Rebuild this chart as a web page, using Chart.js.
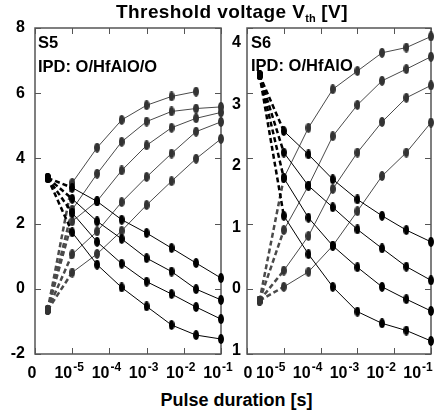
<!DOCTYPE html>
<html>
<head>
<meta charset="utf-8">
<script src="https://cdn.jsdelivr.net/npm/chart.js@4.4.0/dist/chart.umd.min.js"></script>
<style>
  body { margin: 0; background: #fff; font-family: "Liberation Sans", Arial, sans-serif; }
  #wrap { position: relative; width: 444px; height: 417px; overflow: hidden; }
  canvas { position: absolute; top: 0; }
  #s5 { left: 0; }
  #s6 { left: 222px; }
  .txt { position: absolute; font-weight: bold; white-space: nowrap; color: #000; line-height: 1; }
  .txt sub { font-size: 11px; vertical-align: -4px; line-height: 0; letter-spacing: 0; }
</style>
</head>
<body>
<div id="wrap">
  <canvas id="s5" width="244" height="380"></canvas>
  <canvas id="s6" width="222" height="380"></canvas>
  <div class="txt" style="left:0;width:464px;text-align:center;top:2px;font-size:19px;letter-spacing:0.4px">Threshold voltage V<sub>th</sub> [V]</div>
  <div class="txt" style="left:0;width:473px;text-align:center;top:391px;font-size:18px">Pulse duration [s]</div>
  <div class="txt" style="left:38px;top:34px;font-size:16.5px">S5</div>
  <div class="txt" style="left:38px;top:58px;font-size:16.5px">IPD: O/HfAlO/O</div>
  <div class="txt" style="left:251px;top:34px;font-size:16.5px">S6</div>
  <div class="txt" style="left:251px;top:57px;font-size:16.5px">IPD: O/HfAlO</div>
</div>
<script>
// pulse duration, as log10(t / 1 s); the "0" pulse sits left of 10^-5
const pulseLog = [-5, -4.33, -3.67, -3, -2.33, -1.67, -1];
const zeroPulseLog = -5.66;

const xTickValues = [-6, -5, -4, -3, -2, -1];
const xTickLabels = [['0', ''], ['10', '-5'], ['10', '-4'], ['10', '-3'], ['10', '-2'], ['10', '-1']];

// S5 (IPD: O/HfAlO/O), Vth [V]
const s5ProgramStart = -0.65;
const s5Program = [
  [3.25, 4.33, 5.18, 5.63, 5.9, 6.05],
  [2.43, 3.53, 4.51, 5.13, 5.44, 5.53, 5.58],
  [2.07, 2.69, 3.63, 4.4, 4.94, 5.23, 5.41],
  [1.06, 1.76, 2.66, 3.43, 4.15, 4.82, 5.12],
  [0.5, 1.07, 1.78, 2.57, 3.3, 3.99, 4.6]
];
const s5EraseStart = 3.4;
const s5Erase = [
  [3.1, 2.68, 2.12, 1.71, 1.25, 0.79, 0.33],
  [2.76, 2.07, 1.53, 0.94, 0.53, -0.01, -0.34],
  [2.33, 1.44, 0.77, 0.22, -0.16, -0.56, -0.93],
  [1.73, 0.74, 0.04, -0.54, -1.11, -1.42, -1.54]
];
const s5YTicks = [-2, 0, 2, 4, 6, 8];
const s5YLabels = ['-2', '0', '2', '4', '6', '8'];

// S6 (IPD: O/HfAlO), Vth [V]
const s6ProgramStart = -0.18;
const s6Program = [
  [1.7, 2.47, 3.06, 3.34, 3.62, 3.7, 3.87],
  [0.9, 1.58, 2.34, 2.82, 3.19, 3.37, 3.56],
  [0.28, 0.81, 1.53, 2.09, 2.56, 2.93, 3.12],
  [0.03, 0.26, 0.66, 1.19, 1.73, 2.09, 2.55]
];
const s6EraseStart = 3.28;
const s6Erase = [
  [2.42, 2.06, 1.68, 1.37, 1.12, 0.9, 0.72],
  [2.09, 1.58, 1.25, 0.91, 0.62, 0.34, 0.13],
  [1.7, 1.09, 0.66, 0.33, 0.03, -0.16, -0.34],
  [1.12, 0.53, 0.03, -0.35, -0.53, -0.64, -0.8]
];
const s6YTicks = [-1, 0, 1, 2, 3, 4];
const s6YLabels = ['1', '0', '1', '2', '3', '4'];

const FONT = '"Liberation Sans", Arial, sans-serif';

function dot(color) {
  const c = document.createElement('canvas');
  c.width = 6; c.height = 10;
  const g = c.getContext('2d');
  g.fillStyle = color;
  g.beginPath();
  g.ellipse(3, 5, 3, 5, 0, 0, Math.PI * 2);
  g.fill();
  return c;
}
const blackDot = dot('#000');
const grayDot = dot('#333');

function curves(start, series, color, img) {
  return series.map(vals => ({
    data: [{x: zeroPulseLog, y: start}].concat(vals.map((v, i) => ({x: pulseLog[i], y: v}))),
    borderColor: color,
    borderWidth: 1,
    pointStyle: img,
    clip: false,
    segment: {
      borderDash: ctx => ctx.p0DataIndex === 0 ? [5, 3] : undefined,
      borderWidth: ctx => ctx.p0DataIndex === 0 ? 2.5 : undefined
    }
  }));
}

function framePlugin(cfg) {
  return {
    id: 'frame',
    beforeDatasetsDraw(chart) {
      const {ctx, chartArea: a, scales} = chart;
      ctx.save();
      ctx.strokeStyle = '#555';
      ctx.lineWidth = 1.5;
      ctx.strokeRect(a.left, a.top, a.right - a.left, a.bottom - a.top);
      ctx.lineWidth = 1;
      ctx.beginPath();
      xTickValues.forEach(v => {
        const px = Math.round(scales.x.getPixelForValue(v)) + 0.5;
        ctx.moveTo(px, a.bottom); ctx.lineTo(px, a.bottom - 6);
        ctx.moveTo(px, a.top); ctx.lineTo(px, a.top + 6);
      });
      cfg.yTicks.forEach(v => {
        const py = Math.round(scales.y.getPixelForValue(v)) + 0.5;
        ctx.moveTo(a.left, py); ctx.lineTo(a.left + 6, py);
        ctx.moveTo(a.right, py); ctx.lineTo(a.right - 6, py);
      });
      ctx.stroke();
      ctx.restore();
    },
    afterDraw(chart) {
      const {ctx, chartArea: a, scales} = chart;
      const big = 'bold 16px ' + FONT;
      const small = 'bold 12px ' + FONT;
      ctx.save();
      ctx.fillStyle = '#000';
      ctx.textAlign = 'left';
      ctx.textBaseline = 'alphabetic';
      xTickLabels.forEach((lab, i) => {
        const px = scales.x.getPixelForValue(xTickValues[i]) + (lab[1] ? cfg.xShift : cfg.zeroShift);
        ctx.font = big;
        const w1 = ctx.measureText(lab[0]).width;
        ctx.font = small;
        const w2 = lab[1] ? ctx.measureText(lab[1]).width + 1 : 0;
        const x0 = px - (w1 + w2) / 2;
        ctx.font = big;
        ctx.fillText(lab[0], x0, a.bottom + 24);
        if (lab[1]) {
          ctx.font = small;
          ctx.fillText(lab[1], x0 + w1 + 1, a.bottom + 17);
        }
      });
      ctx.restore();
    }
  };
}

function panel(id, cfg) {
  return new Chart(document.getElementById(id), {
    type: 'line',
    data: {
      datasets: curves(cfg.eraseStart, cfg.erase, '#000', blackDot)
        .concat(curves(cfg.programStart, cfg.program, '#4a4a4a', grayDot))
    },
    options: {
      responsive: false,
      animation: false,
      layout: { padding: { top: 28, right: cfg.padRight, left: 0, bottom: 0 } },
      plugins: { legend: { display: false }, tooltip: { enabled: false } },
      scales: {
        x: {
          type: 'linear', min: -6, max: -1,
          ticks: { display: false },
          grid: { display: false, drawTicks: false },
          border: { display: false },
          afterFit: s => { s.height = 26; }
        },
        y: { type: 'linear', min: cfg.yMin, max: cfg.yMax, display: false },
        yl: {
          type: 'linear', position: 'left', min: cfg.labelMin, max: cfg.labelMax,
          grid: { display: false, drawTicks: false, tickLength: 0 },
          border: { display: false },
          afterBuildTicks: s => { s.ticks = cfg.yTicks.map(v => ({ value: v })); },
          ticks: {
            padding: cfg.yPad,
            color: '#000',
            font: { family: FONT, size: 16, weight: 'bold' },
            callback: v => cfg.yLabels[cfg.yTicks.indexOf(v)]
          },
          afterFit: s => { s.width = cfg.yWidth; }
        }
      }
    },
    plugins: [framePlugin(cfg)]
  });
}

panel('s5', {
  program: s5Program, programStart: s5ProgramStart,
  erase: s5Erase, eraseStart: s5EraseStart,
  yMin: -2, yMax: 8, yTicks: s5YTicks, yLabels: s5YLabels,
  labelMin: -2, labelMax: 8,
  yWidth: 35, yPad: 10, padRight: 23, xShift: -3, zeroShift: -3
});

panel('s6', {
  program: s6Program, programStart: s6ProgramStart,
  erase: s6Erase, eraseStart: s6EraseStart,
  yMin: -1, yMax: 4, yTicks: s6YTicks, yLabels: s6YLabels,
  labelMin: -1.06, labelMax: 4.24,
  yWidth: 25, yPad: 6, padRight: 13, xShift: -13, zeroShift: 1
});
</script>
</body>
</html>
